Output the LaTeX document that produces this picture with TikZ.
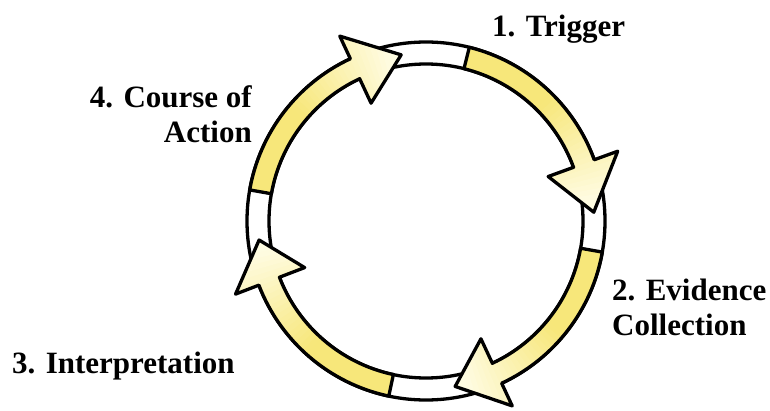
\documentclass[tikz,border=0pt]{standalone}
\usepackage{fontspec}
\setmainfont{Liberation Serif}
\usepackage{xcolor}
\usetikzlibrary{calc}
\definecolor{cycleyellow}{HTML}{F7E77A}
\definecolor{cyclecream}{HTML}{FFFDE8}

\begin{document}
\begin{tikzpicture}[x=1pt, y=1pt,
  steplabel/.style={font=\fontsize{31}{35}\selectfont\bfseries, inner sep=0pt},
  outline/.style={line width=3.3pt, line join=round}]
\useasboundingbox (0,0) rectangle (770,410);
\coordinate (c) at (426,189);
\fill[white, even odd rule] (c) circle[radius=179] (c) circle[radius=157];
\draw[outline] (c) circle[radius=179] (c) circle[radius=157];
\foreach \s/\b/\t in {76/20/3, -10/-65/-80, -102/-159/-173.5, 170/115/98.5}{
  \draw[outline, path picture={
      \foreach \k in {0,...,40}{
        \pgfmathsetmacro\a{\s-(\s-\t)*\k/40}
        \pgfmathsetmacro\p{max(6,min(100,100*(1-(\k/40-0.42)/0.55)))}
        \fill[cycleyellow!\p!cyclecream] (c) -- ($(c)+(\a+0.5:240)$) -- ($(c)+(\a-2.5:240)$) -- cycle;
      }}]
    ($(c)+(\s:179)$) arc[start angle=\s, end angle=\b, radius=179]
    -- ($(c)+(\b:204)$) -- ($(c)+(\t:168)$) -- ($(c)+(\b:130)$)
    -- ($(c)+(\b:157)$) arc[start angle=\b, end angle=\s, radius=157] -- cycle;
}
\node[steplabel, anchor=base west] (trigger) at (492,373) {1. Trigger};
\node[steplabel, anchor=base west, align=left] (evidence) at (612,75) {2. Evidence\\Collection};
\node[steplabel, anchor=base west] (interp) at (12,37) {3. Interpretation};
\node[steplabel, anchor=base east, align=right] (action) at (252,267) {4. Course of\\Action};
\end{tikzpicture}
\end{document}
